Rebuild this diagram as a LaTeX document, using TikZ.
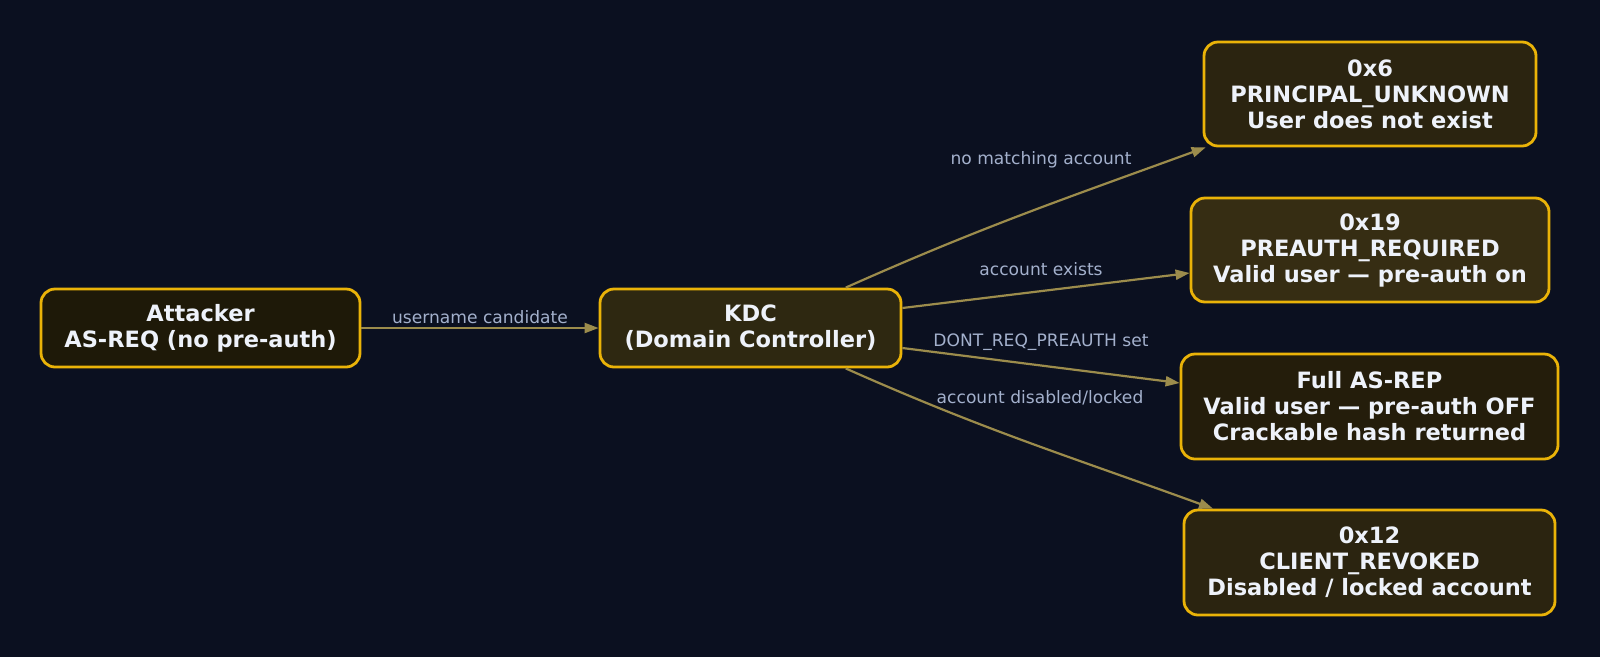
\documentclass[tikz,border=0pt]{standalone}
\usepackage{fontspec}
\setmainfont{DejaVu Sans}
\usetikzlibrary{arrows.meta}
\definecolor{bg}{HTML}{0B1020}
\definecolor{bord}{HTML}{EAB308}
\definecolor{edgec}{HTML}{9C8C4C}
\definecolor{lblc}{HTML}{A3B0CC}
\definecolor{txtc}{HTML}{EEF2FA}
\definecolor{fA}{HTML}{1E1908}
\definecolor{fK}{HTML}{2E2811}
\definecolor{fS}{HTML}{2B2410}
\definecolor{fP}{HTML}{362D13}
\definecolor{fF}{HTML}{241D0B}
\tikzset{
  box/.style={draw=bord, line width=2.8pt, rounded corners=14pt, align=center,
    text=txtc, font=\bfseries\fontsize{22.5}{26}\selectfont, inner sep=0pt},
  edge/.style={draw=edgec, line width=2.2pt, -{Triangle[length=14pt,width=10pt]}},
  lbl/.style={text=lblc, font=\fontsize{17.1}{20}\selectfont, inner sep=0pt}
}
\begin{document}
\begin{tikzpicture}[x=1pt,y=-1pt]
\fill[bg] (0,0) rectangle (1600,657);
\useasboundingbox (0,0) rectangle (1600,657);
\node[box, fill=fA, minimum width=319pt, minimum height=78pt] (att) at (200.5,328) {Attacker\\AS-REQ (no pre-auth)};
\node[box, fill=fK, minimum width=301pt, minimum height=78pt] (kdc) at (750.5,328) {KDC\\(Domain Controller)};
\node[box, fill=fS, minimum width=332pt, minimum height=104pt] (p6) at (1370,94) {0x6\\PRINCIPAL\_UNKNOWN\\User does not exist};
\node[box, fill=fP, minimum width=358pt, minimum height=104pt] (p19) at (1370,250) {0x19\\PREAUTH\_REQUIRED\\Valid user — pre-auth on};
\node[box, fill=fF, minimum width=377pt, minimum height=105pt] (full) at (1369.5,406.5) {Full AS-REP\\Valid user — pre-auth OFF\\Crackable hash returned};
\node[box, fill=fS, minimum width=371pt, minimum height=105pt] (p12) at (1369.5,562.5) {0x12\\CLIENT\_REVOKED\\Disabled / locked account};

\draw[edge] (att.east) -- (kdc.west);
\draw[edge] (kdc.23.8) to[out=24,in=200] (p6.198.5);
\draw[edge] (kdc.east |- 0,308) -- (p19.west |- 0,273);
\draw[edge] (kdc.east |- 0,348) -- (full.west |- 0,383);
\draw[edge] (kdc.-23.8) to[out=-24,in=160] (p12.161.5);

\node[lbl] (l1) at (480,317) {username candidate};
\node[lbl] (l2) at (1041,160) {no matching account};
\node[lbl] (l3) at (1041,269) {account exists};
\node[lbl] (l4) at (1041,342) {DONT\_REQ\_PREAUTH set};
\node[lbl] (l5) at (1040,398) {account disabled/locked};
\end{tikzpicture}
\end{document}
